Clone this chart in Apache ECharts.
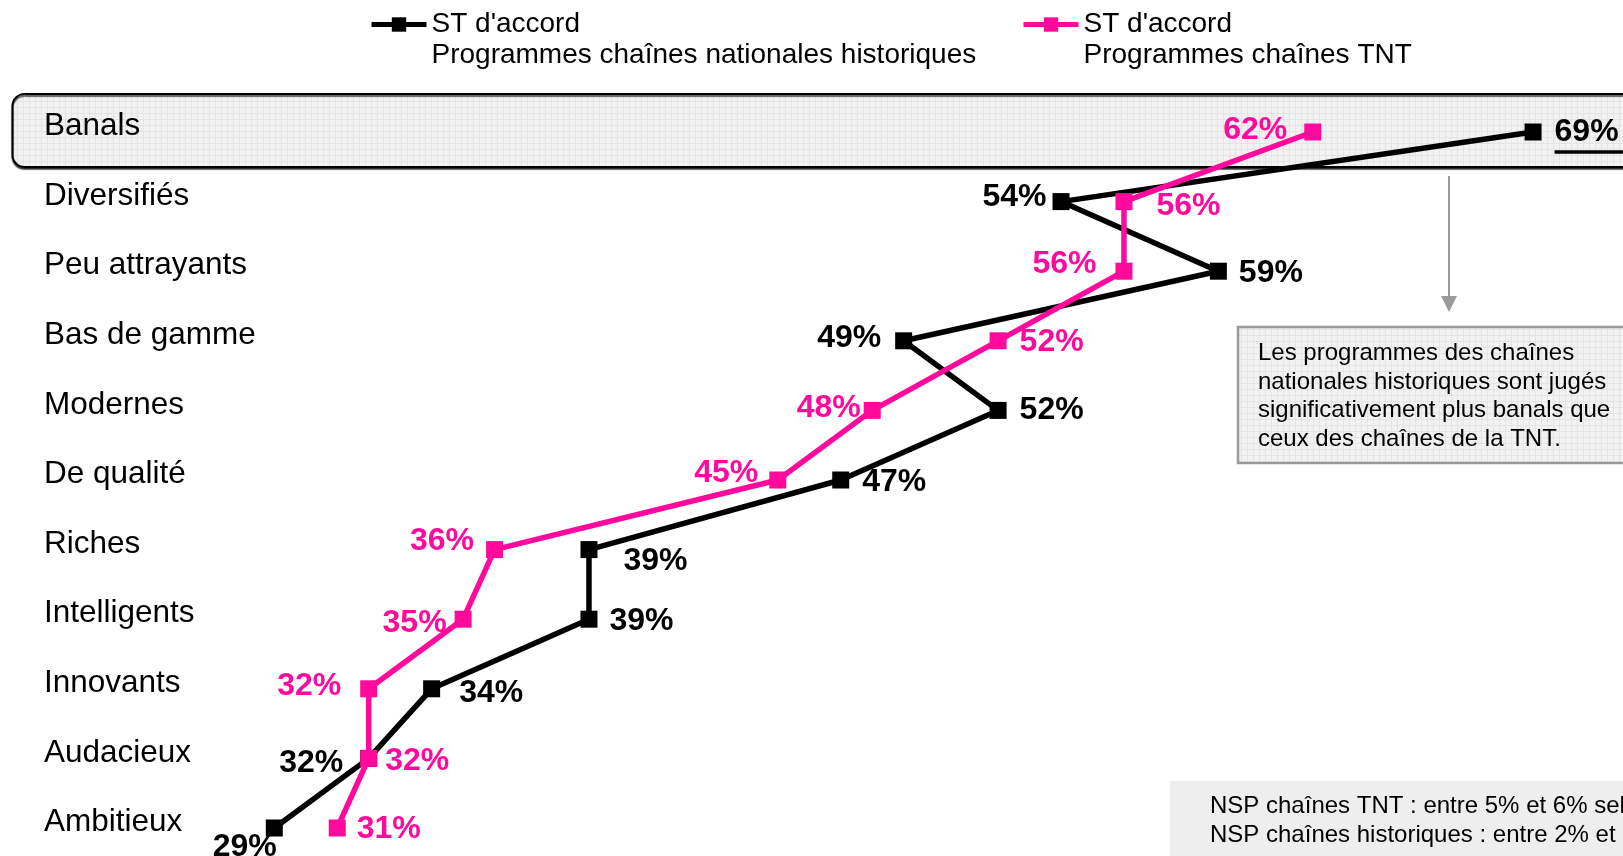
<!DOCTYPE html>
<html>
<head>
<meta charset="utf-8">
<script src="https://cdn.jsdelivr.net/npm/echarts@6/dist/echarts.min.js"></script>
<style>
html,body{margin:0;padding:0;background:#fff;}
#main{width:1623px;height:856px;}
</style>
</head>
<body>
<div id="main"></div>
<script>
// ---- data ----
const categories = ['Banals','Diversifiés','Peu attrayants','Bas de gamme','Modernes','De qualité','Riches','Intelligents','Innovants','Audacieux','Ambitieux'];
const historiques = [69,54,59,49,52,47,39,39,34,32,29];
const tnt = [62,56,56,52,48,45,36,35,32,32,31];
const seriesNames = ["ST d'accord\nProgrammes chaînes nationales historiques", "ST d'accord\nProgrammes chaînes TNT"];
const noteText = "Les programmes des chaînes\nnationales historiques sont jugés\nsignificativement plus banals que\nceux des chaînes de la TNT.";
const nspText = "NSP chaînes TNT : entre 5% et 6% selon les items\nNSP chaînes historiques : entre 2% et 3% selon les items";

// ---- label placement (style only) : [position, distance, dx, dy] ----
const blackLabelPlace = [
  ['right',13,0,1],['left',6,0,-4],['right',12,0,2],['left',14,0,-3],['right',13,0,0],
  ['right',13,0,2],['right',26,0,12],['right',12,0,2],['right',19,0,4],['left',17,0,5],['left',0,11,19]
];
const pinkLabelPlace = [
  ['left',17,0,-2],['right',24,0,5],['left',19,0,-7],['right',13,0,1],['left',3,0,-2],
  ['left',11,0,-7],['left',12,0,-8],['left',8,0,4],['left',19,0,-3],['right',8,0,3],['right',11,0,1]
];

const BLACK = '#000000';
const PINK = '#FF0A9C';
const FONT = "'Liberation Sans', Arial, sans-serif";

function makePattern(){
  const c = document.createElement('canvas');
  c.width = 6; c.height = 6;
  const g = c.getContext('2d');
  g.fillStyle = '#f2f2f2'; g.fillRect(0,0,6,6);
  g.fillStyle = '#e4e4e4';
  g.fillRect(0,5,6,1); g.fillRect(5,0,1,6);
  return {image: c, repeat: 'repeat'};
}
const pattern = makePattern();

function buildData(values, place, underlineFirst){
  return values.map((v,i)=>{
    const p = place[i];
    const item = {
      value: [v, categories[i]],
      label: {position: p[0], distance: p[1], offset: [p[2], p[3]]}
    };
    if (underlineFirst && i === 0){
      item.label.formatter = '{t|' + v + '%}\n{u|}';
      item.label.offset = [p[2], p[3] + 2];
    }
    return item;
  });
}

const chart = echarts.init(document.getElementById('main'), null, {renderer:'canvas'});

const labelBase = (color)=>({
  show: true,
  color: color,
  fontFamily: FONT,
  fontWeight: 'bold',
  fontSize: 32,
  formatter: p => p.value[0] + '%',
  rich: {
    t: {color: color, fontFamily: FONT, fontWeight: 'bold', fontSize: 32, lineHeight: 34},
    u: {width: 90, height: 3.5, backgroundColor: color, lineHeight: 5}
  }
});

const legendText = {fontFamily: FONT, fontSize: 28, lineHeight: 31, color: '#000'};

const option = {
  backgroundColor: '#ffffff',
  animation: false,
  grid: {left: 54, right: 27, top: 132, bottom: 28, containLabel: false},
  xAxis: {type: 'value', min: 22, max: 71, show: false},
  yAxis: {
    type: 'category', data: categories, inverse: true, boundaryGap: false,
    axisLine: {show: false}, axisTick: {show: false}, splitLine: {show: false},
    axisLabel: {
      align: 'left', margin: 10, color: '#000', fontFamily: FONT, fontSize: 31.5,
      verticalAlign: 'bottom', lineHeight: 11
    }
  },
  legend: [
    {data: [seriesNames[0]], left: 364, top: -27, itemWidth: 55, itemHeight: 18,
     formatter: n => '\n' + n, lineStyle: {width: 5},
     textStyle: legendText},
    {data: [seriesNames[1]], left: 1016, top: -27, itemWidth: 55, itemHeight: 18,
     formatter: n => '\n' + n, lineStyle: {width: 5},
     textStyle: legendText}
  ],
  graphic: {elements: [
    {type: 'rect', z: -5, shape: {x: 12.5, y: 94, width: 1700, height: 73, r: 12},
     style: {fill: pattern, stroke: '#000', lineWidth: 2, shadowColor: 'rgba(0,0,0,0.6)', shadowOffsetY: 2, shadowBlur: 1}},
    {type: 'line', z: 1, shape: {x1: 1449, y1: 176, x2: 1449, y2: 298}, style: {stroke: '#9a9a9a', lineWidth: 2}},
    {type: 'polygon', z: 1, shape: {points: [[1441,296],[1457,296],[1449,312]]}, style: {fill: '#9a9a9a'}},
    {type: 'rect', z: 1, shape: {x: 1238, y: 327, width: 450, height: 136},
     style: {fill: pattern, stroke: '#9a9a9a', lineWidth: 2.5}},
    {type: 'text', z: 2, style: {x: 1258, y: 339, text: noteText, font: "24px 'Liberation Sans', Arial, sans-serif",
      fill: '#000', lineHeight: 28.6, verticalAlign: 'top', align: 'left'}},
    {type: 'rect', z: 1, shape: {x: 1170, y: 781, width: 500, height: 100}, style: {fill: '#eeeeee'}},
    {type: 'text', z: 2, style: {x: 1210, y: 792, text: nspText, font: "24px 'Liberation Sans', Arial, sans-serif",
      fill: '#000', lineHeight: 28.6, verticalAlign: 'top', align: 'left'}}
  ]},
  series: [
    {
      name: seriesNames[0], type: 'line', z: 3,
      symbol: 'rect', symbolSize: 17,
      lineStyle: {color: BLACK, width: 5.5},
      itemStyle: {color: BLACK},
      label: labelBase(BLACK),
      data: buildData(historiques, blackLabelPlace, true)
    },
    {
      name: seriesNames[1], type: 'line', z: 4,
      symbol: 'rect', symbolSize: 17,
      lineStyle: {color: PINK, width: 5.5},
      itemStyle: {color: PINK},
      label: labelBase(PINK),
      data: buildData(tnt, pinkLabelPlace, false)
    }
  ]
};
chart.setOption(option);
</script>
</body>
</html>
